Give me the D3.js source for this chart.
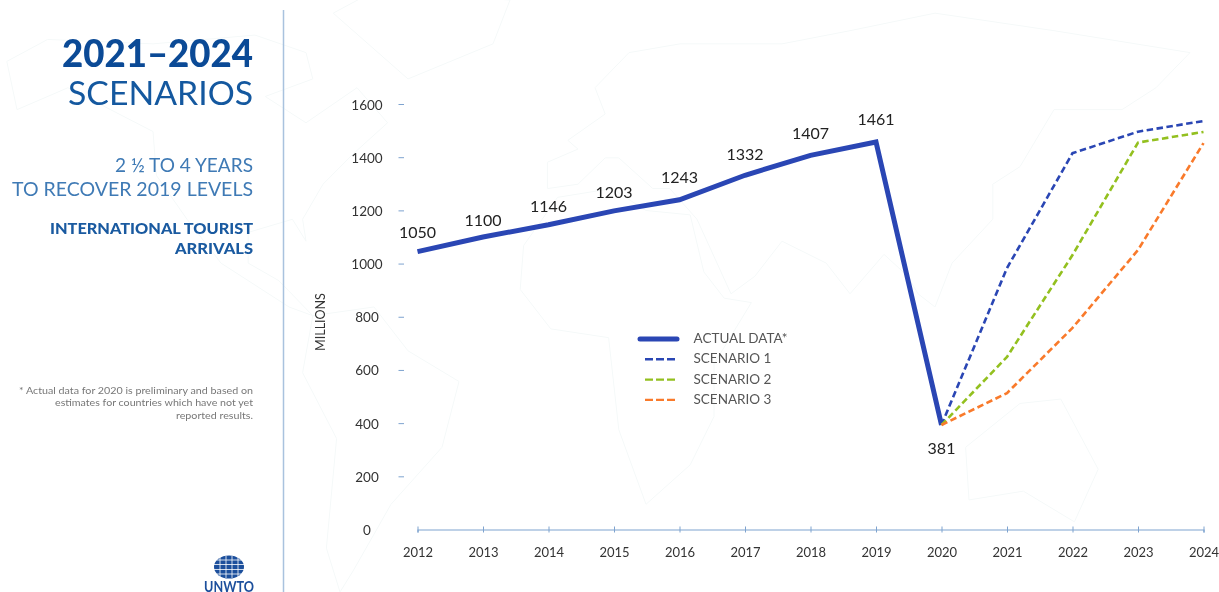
<!DOCTYPE html>
<html>
<head>
<meta charset="utf-8">
<script src="https://cdn.jsdelivr.net/npm/d3@7/dist/d3.min.js"></script>
<style>
html,body{margin:0;padding:0;background:#fff;overflow:hidden}
svg{display:block;filter:blur(0.45px)}
text{font-family:Lato,"Open Sans",sans-serif}
</style>
</head>
<body>
<svg id="c" width="1219" height="592"></svg>
<script>
const years = [2012,2013,2014,2015,2016,2017,2018,2019,2020,2021,2022,2023,2024];
const actualYears = [2012,2013,2014,2015,2016,2017,2018,2019,2020];
const actualValues = [1045,1100,1146,1198,1240,1332,1407,1457,393];
const actualLabels = ["1050","1100","1146","1203","1243","1332","1407","1461","381"];
const scenarioYears = [2020,2021,2022,2023,2024];
const scenario1 = [393,983,1415,1496,1536];
const scenario2 = [393,649,1032,1455,1495];
const scenario3 = [393,513,758,1051,1453];
const yTicks = [0,200,400,600,800,1000,1200,1400,1600];
const legendNames = ["ACTUAL DATA*","SCENARIO 1","SCENARIO 2","SCENARIO 3"];

// faint decorative world map, rough outlines in lon/lat
const northAmerica=[[-168,66],[-156,71],[-125,70],[-95,72],[-80,68],[-78,62],[-92,58],[-80,52],[-65,60],[-56,52],[-66,45],[-75,38],[-81,30],[-80,25],[-84,30],[-97,27],[-97,20],[-88,16],[-78,8],[-85,10],[-105,20],[-115,30],[-124,40],[-125,50],[-150,60],[-165,55],[-168,66]];
const southAmerica=[[-78,8],[-60,10],[-50,0],[-35,-7],[-40,-22],[-55,-35],[-66,-50],[-70,-55],[-74,-45],[-71,-20],[-81,-5],[-78,8]];
const africa=[[-6,35],[10,37],[20,32],[33,31],[37,18],[43,12],[51,11],[40,-3],[40,-15],[33,-26],[20,-35],[12,-18],[9,3],[-8,5],[-17,14],[-16,24],[-6,35]];
const eurasia=[[-9,37],[-9,43],[0,46],[-3,48],[8,54],[5,60],[15,68],[30,70],[60,70],[80,73],[105,77],[140,73],[180,68],[170,60],[160,55],[140,55],[130,42],[122,38],[122,30],[110,20],[105,10],[100,13],[97,17],[90,22],[80,13],[73,20],[60,25],[52,17],[45,13],[35,30],[27,37],[22,37],[12,44],[8,44],[0,38],[-9,37]];
const australia=[[114,-22],[130,-12],[142,-11],[153,-27],[146,-39],[131,-32],[115,-34],[114,-22]];
const greenland=[[-50,62],[-25,70],[-20,80],[-60,82],[-72,77],[-50,62]];

const BLUE="#2a46b4", GREEN="#93c01f", ORANGE="#f97a2b", NAVY="#0b4a96", AXIS="#7ea3cf";
const svg=d3.select("#c");
const x=d3.scaleLinear().domain([2012,2024]).range([417.5,1203.5]);
const y=d3.scaleLinear().domain([0,1600]).range([529.5,104]);

// map
const lonX=d3.scaleLinear().domain([-170,180]).range([0,1190]);
const latY=d3.scaleLinear().domain([-55,80]).range([592,0]);
const mapLine=d3.line().x(d=>lonX(d[0])).y(d=>latY(d[1]));
svg.append("g").selectAll("path").data([northAmerica,southAmerica,africa,eurasia,australia,greenland]).join("path")
  .attr("d",mapLine).attr("fill","none").attr("stroke","#f5f9f9").attr("stroke-width",1);

// sidebar rule
svg.append("line").attr("x1",283.5).attr("x2",283.5).attr("y1",10).attr("y2",592)
  .attr("stroke","#a9c2de").attr("stroke-width",1.5);

// side texts: text, baseline, size, weight, colour, width
const side=[
 ["2021–2024",67,37,900,NAVY,191],
 ["SCENARIOS",105,33,400,"#14589f",185],
 ["2 ½ TO 4 YEARS",172,18.5,400,"#3f7ab5",138],
 ["TO RECOVER 2019 LEVELS",196,18.5,400,"#3f7ab5",241],
 ["INTERNATIONAL TOURIST",234,14.5,900,"#1a5aa0",203],
 ["ARRIVALS",254,14.5,900,"#1a5aa0",78],
 ["* Actual data for 2020 is preliminary and based on",394,9.5,400,"#777",234],
 ["estimates for countries which have not yet",406,9.5,400,"#777",198],
 ["reported results.",419,9.5,400,"#777",77]
];
svg.append("g").selectAll("text").data(side).join("text")
  .attr("x",253).attr("y",d=>d[1]).attr("text-anchor","end")
  .attr("font-size",d=>d[2]).attr("font-weight",d=>d[3]).attr("fill",d=>d[4])
  .attr("textLength",d=>d[5]).attr("lengthAdjust","spacingAndGlyphs").text(d=>d[0]);

// logo
const logo=svg.append("g").attr("transform","translate(229,567)");
logo.append("ellipse").attr("rx",15).attr("ry",11.5).attr("fill","#1c4f9c");
[-7,-2.5,2.5,7].forEach(o=>logo.append("line").attr("x1",-15).attr("x2",15).attr("y1",o).attr("y2",o).attr("stroke","#fff").attr("stroke-width",.8));
[-9,-3,3,9].forEach(o=>logo.append("line").attr("x1",o).attr("x2",o).attr("y1",-11).attr("y2",11).attr("stroke","#fff").attr("stroke-width",.8));
svg.append("text").attr("x",229).attr("y",591.5).attr("text-anchor","middle").attr("font-size",16)
  .attr("font-weight",700).attr("fill","#1c4f9c").attr("textLength",50).attr("lengthAdjust","spacingAndGlyphs").text("UNWTO");

// y axis: short ticks, centred labels
const yAxis=svg.append("g").attr("transform","translate(404,0)")
  .call(d3.axisLeft(y).tickValues(yTicks).tickSize(5.5).tickFormat(d3.format("d")));
yAxis.select(".domain").remove();
yAxis.selectAll("line").attr("stroke",AXIS).filter(d=>d===0).remove();
yAxis.selectAll("text").attr("x",-37).attr("dy",null).attr("y",5).attr("text-anchor","middle")
  .attr("font-size",13.5).attr("font-family","Lato").attr("fill","#333");

// x axis
const xAxis=svg.append("g").attr("transform",`translate(0,${y(0)})`)
  .call(d3.axisBottom(x).tickValues(years).tickFormat(d3.format("d")).tickSize(3).tickPadding(15.5));
xAxis.select(".domain").attr("stroke",AXIS).attr("stroke-width",1.2);
xAxis.selectAll("line").attr("y1",-3).attr("stroke",AXIS);
xAxis.selectAll("text").attr("font-size",13).attr("font-family","Lato").attr("fill","#333");

svg.append("text").attr("transform","translate(325,322) rotate(-90)").attr("text-anchor","middle")
  .attr("font-size",12.5).attr("fill","#333").text("MILLIONS");

// lines
const line=d3.line().x(d=>x(d[0])).y(d=>y(d[1]));
const series=[[scenario1,BLUE],[scenario2,GREEN],[scenario3,ORANGE]];
svg.append("path").attr("d",line(d3.zip(actualYears,actualValues))).attr("fill","none")
  .attr("stroke",BLUE).attr("stroke-width",5);
series.forEach(([v,c])=>svg.append("path").attr("d",line(d3.zip(scenarioYears,v))).attr("fill","none")
  .attr("stroke",c).attr("stroke-width",2.6).attr("stroke-dasharray","6.5 3.5"));

// value labels
const labelGap=[14,11,13,13,17,15,16,17];
svg.append("g").selectAll("text").data(actualYears).join("text")
  .attr("x",d=>x(d))
  .attr("y",(d,i)=>i===8?454:y(actualValues[i])-labelGap[i])
  .attr("text-anchor","middle").attr("font-size",16).attr("fill","#222")
  .text((d,i)=>actualLabels[i]);

// legend
const legendColors=[BLUE,BLUE,GREEN,ORANGE];
const lg=svg.append("g").selectAll("g").data(legendNames).join("g")
  .attr("transform",(d,i)=>`translate(0,${339+i*20.3})`);
lg.append("line").attr("x1",(d,i)=>i?645:640).attr("x2",(d,i)=>i?675:677).attr("y1",0).attr("y2",0)
  .attr("stroke",(d,i)=>legendColors[i]).attr("stroke-width",(d,i)=>i?2.4:5)
  .attr("stroke-linecap",(d,i)=>i?"butt":"round").attr("stroke-dasharray",(d,i)=>i?"8 3":null);
lg.append("text").attr("x",693.5).attr("y",4).attr("font-size",13.5).attr("fill","#555").text(d=>d);
</script>
</body>
</html>
